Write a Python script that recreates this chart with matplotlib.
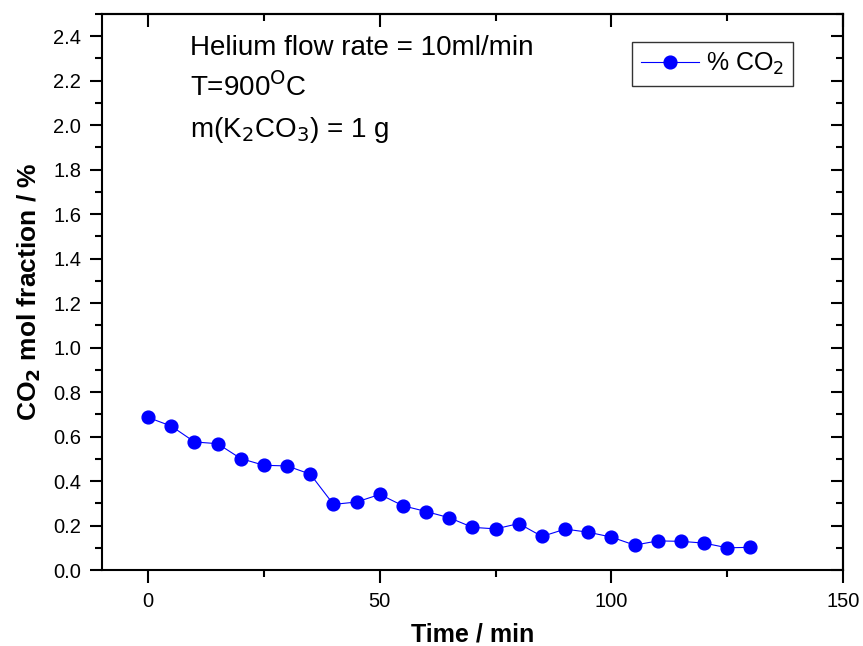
import numpy as np
import matplotlib.pyplot as plt
from matplotlib.ticker import MultipleLocator

plt.rcParams['font.family'] = ['Liberation Sans', 'DejaVu Sans']

# CO2 mol fraction vs. time
tiempo = [0, 5, 10, 15, 20, 25, 30, 35, 40, 45, 50, 55, 60, 65,
          70, 75, 80, 85, 90, 95, 100, 105, 110, 115, 120, 125, 130]
co2 = [0.686, 0.647, 0.576, 0.568, 0.501, 0.471, 0.468, 0.431, 0.295,
       0.306, 0.340, 0.289, 0.263, 0.235, 0.192, 0.185, 0.209, 0.151,
       0.184, 0.170, 0.148, 0.112, 0.131, 0.129, 0.121, 0.100, 0.102]

fig = plt.figure(figsize=(8.63, 6.46), dpi=100)
ax = fig.add_axes([0.118, 0.1176, 0.859, 0.8607])

ax.plot(tiempo, co2, '-', color='#0000ff', lw=0.8, marker='o', ms=9.2,
        mfc='#0000ff', mec='#0000ff', label='% CO$_2$')

ax.set_xlim(-10, 150)
ax.set_ylim(0, 2.5)
ax.xaxis.set_major_locator(MultipleLocator(50))
ax.xaxis.set_minor_locator(MultipleLocator(25))
ax.yaxis.set_major_locator(MultipleLocator(0.2))
ax.yaxis.set_minor_locator(MultipleLocator(0.1))
ax.yaxis.set_major_formatter(plt.FormatStrFormatter('%.1f'))

for s in ax.spines.values():
    s.set_linewidth(1.5)
ax.tick_params(which='both', direction='out', width=1.5, labelsize=14.5,
               top=False, right=False)
ax.tick_params(which='major', length=9)
ax.tick_params(which='minor', length=5)
ax.tick_params(axis='x', pad=7)
ax.tick_params(axis='y', pad=6)

# inward ticks mirrored on top and right
axt = ax.secondary_xaxis('top')
axt.xaxis.set_major_locator(MultipleLocator(50))
axt.xaxis.set_minor_locator(MultipleLocator(25))
axt.tick_params(which='both', direction='in', width=1.5, labeltop=False)
axt.tick_params(which='major', length=9)
axt.tick_params(which='minor', length=5)
axr = ax.secondary_yaxis('right')
axr.yaxis.set_major_locator(MultipleLocator(0.2))
axr.yaxis.set_minor_locator(MultipleLocator(0.1))
axr.tick_params(which='both', direction='in', width=1.5, labelright=False)
axr.tick_params(which='major', length=9)
axr.tick_params(which='minor', length=5)
for a in (axt, axr):
    for s in a.spines.values():
        s.set_linewidth(1.5)

ax.set_xlabel('Time / min', fontsize=18, fontweight='bold', labelpad=8)
ax.set_ylabel('CO$_\\mathbf{2}$ mol fraction / %', fontsize=19,
              fontweight='bold', labelpad=7)

ax.text(0.119, 0.926, 'Helium flow rate = 10ml/min', transform=ax.transAxes,
        fontsize=20, va='baseline')
ax.text(0.119, 0.853, 'T=900$^{\\mathrm{O}}$C', transform=ax.transAxes,
        fontsize=20, va='baseline')
ax.text(0.119, 0.779, 'm(K$_2$CO$_3$) = 1 g', transform=ax.transAxes,
        fontsize=20, va='baseline')

leg = ax.legend(loc='upper right', bbox_to_anchor=(0.9325, 0.9496),
                borderaxespad=0, fontsize=18, frameon=True, fancybox=False,
                handlelength=2.3, borderpad=0.35, handletextpad=0.3)
leg.get_frame().set_edgecolor('black')
leg.get_frame().set_linewidth(1.0)

fig.savefig('out.png', dpi=100)
